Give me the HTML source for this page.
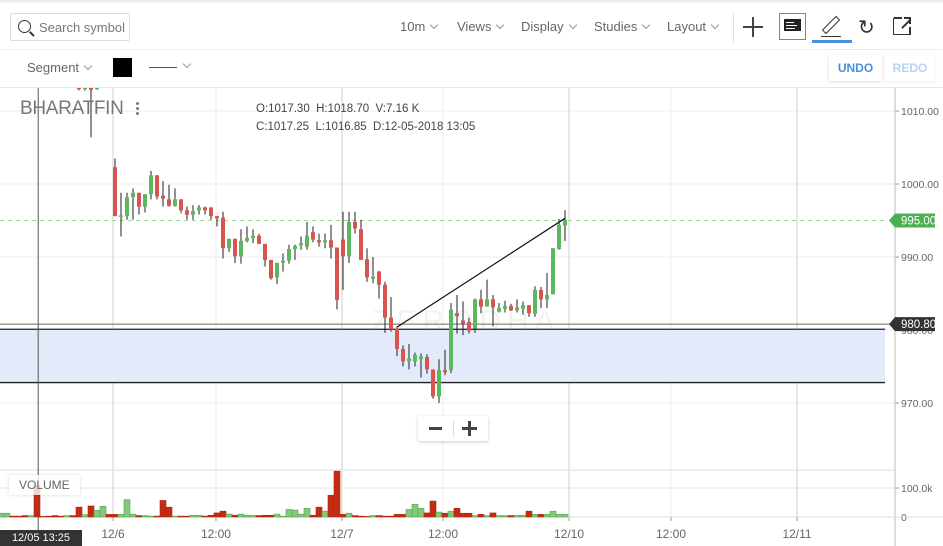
<!DOCTYPE html>
<html><head><meta charset="utf-8">
<style>
*{margin:0;padding:0;box-sizing:border-box}
body{width:943px;height:546px;overflow:hidden;background:#fff;font-family:"Liberation Sans",sans-serif;position:relative;color:#666}
.abs{position:absolute}
.menu{position:absolute;top:19px;font-size:13px;color:#666}
.chev{display:inline-block;width:6px;height:6px;border-right:1px solid #999;border-bottom:1px solid #999;transform:rotate(45deg);margin-left:6px;position:relative;top:-3px}
</style></head><body>
<div class="abs" style="left:0;top:0;width:943px;height:4px;background:linear-gradient(#e6e6e6,#fff)"></div>
<div class="abs" style="left:10px;top:13px;width:120px;height:28px;border:1px solid #ddd;border-radius:2px">
  <div class="abs" style="left:7px;top:6px;width:13px;height:13px;border:1.5px solid #333;border-radius:50%"></div>
  <div class="abs" style="left:18px;top:19px;width:6px;height:1.5px;background:#333;transform:rotate(45deg)"></div>
  <span class="abs" style="left:28px;top:6px;font-size:13px;color:#777">Search symbol</span>
</div>
<div class="menu" style="left:400px">10m<span class="chev"></span></div>
<div class="menu" style="left:457px">Views<span class="chev"></span></div>
<div class="menu" style="left:521px">Display<span class="chev"></span></div>
<div class="menu" style="left:594px">Studies<span class="chev"></span></div>
<div class="menu" style="left:667px">Layout<span class="chev"></span></div>
<div class="abs" style="left:733px;top:13px;width:1px;height:30px;background:#e0e0e0"></div>
<div class="abs" style="left:743px;top:17px;width:20px;height:20px">
  <div class="abs" style="left:9px;top:0;width:1.5px;height:20px;background:#444"></div>
  <div class="abs" style="left:0;top:9px;width:20px;height:1.5px;background:#444"></div>
</div>
<div class="abs" style="left:779px;top:13px;width:27px;height:27px;border:1px solid #4a8fd9">
  <div class="abs" style="left:4px;top:5px;width:17px;height:12px;background:#222"></div>
  <div class="abs" style="left:6px;top:8px;width:8px;height:1px;background:#fff"></div>
  <div class="abs" style="left:6px;top:11px;width:11px;height:1px;background:#fff"></div>
  <div class="abs" style="left:6px;top:14px;width:9px;height:1px;background:#fff"></div>
</div>
<div class="abs" style="left:812px;top:12px;width:40px;height:31px">
  <div class="abs" style="left:16px;top:3px;width:6px;height:20px;border:1.5px solid #333;transform:rotate(45deg);transform-origin:center"></div>
  <div class="abs" style="left:9px;top:24px;width:20px;height:1.3px;background:#333"></div>
  <div class="abs" style="left:0;top:28px;width:40px;height:3px;background:#4a8fd9"></div>
</div>
<div class="abs" style="left:858px;top:15px;font-size:20px;color:#333">&#8635;</div>
<div class="abs" style="left:893px;top:18px;width:17px;height:17px;border:1.5px solid #333;border-top:none;border-right:none">
  <div class="abs" style="left:0;top:-1px;width:8px;height:1.5px;background:#333"></div>
  <div class="abs" style="left:15px;top:9px;width:1.5px;height:8px;background:#333"></div>
  <div class="abs" style="left:6px;top:5px;width:12px;height:1.5px;background:#333;transform:rotate(-45deg)"></div>
  <div class="abs" style="left:10px;top:-1px;width:7px;height:1.5px;background:#333"></div>
  <div class="abs" style="left:15px;top:-1px;width:1.5px;height:7px;background:#333"></div>
</div>
<div class="abs" style="left:0;top:49px;width:943px;height:1px;background:#eee"></div>
<div class="abs" style="left:27px;top:60px;font-size:13px;color:#666">Segment<span class="chev"></span></div>
<div class="abs" style="left:113px;top:58px;width:19px;height:19px;background:#000"></div>
<div class="abs" style="left:149px;top:60px;width:45px;height:16px">
  <div class="abs" style="left:0;top:7px;width:28px;height:1px;background:#555"></div><span class="chev" style="position:absolute;left:29px;top:1px"></span>
</div>
<div class="abs" style="left:829px;top:55px;width:53px;height:26px;box-shadow:0 1px 3px rgba(0,0,0,.15);font-size:12px;font-weight:bold;color:#4a8fd9;text-align:center;line-height:26px">UNDO</div>
<div class="abs" style="left:885px;top:55px;width:50px;height:26px;box-shadow:0 1px 3px rgba(0,0,0,.08);font-size:12px;font-weight:bold;color:#b8d2f0;text-align:center;line-height:26px">REDO</div>
<div class="abs" style="left:0;top:87px;width:943px;height:1px;background:#e6e6e6"></div>

<svg id="chart" class="abs" style="left:0;top:0" width="943" height="546"></svg>

<div class="abs" style="left:20px;top:98px;font-size:19px;color:#777;letter-spacing:-0.3px">BHARATFIN</div>
<div class="abs" style="left:136px;top:102px;width:4px;font-size:0">
  <div style="width:3px;height:3px;background:#777;border-radius:50%;margin-bottom:2px"></div><div style="width:3px;height:3px;background:#777;border-radius:50%;margin-bottom:2px"></div><div style="width:3px;height:3px;background:#777;border-radius:50%"></div>
</div>
<div class="abs" style="left:256px;top:100px;font-size:11.5px;color:#444;line-height:18px">O:1017.30&nbsp; H:1018.70&nbsp; V:7.16 K<br>C:1017.25&nbsp; L:1016.85&nbsp; D:12-05-2018 13:05</div>
<div class="abs" style="left:418px;top:416px;width:70px;height:25px;background:#fff;box-shadow:0 1px 3px rgba(0,0,0,.2);border-radius:2px">
  <div class="abs" style="left:11px;top:11px;width:13px;height:3px;background:#444"></div>
  <div class="abs" style="left:35px;top:4px;width:1px;height:17px;background:#ddd"></div>
  <div class="abs" style="left:44px;top:5px;width:15px;height:15px">
    <div class="abs" style="left:6px;top:0;width:3px;height:15px;background:#444"></div><div class="abs" style="left:0;top:6px;width:15px;height:3px;background:#444"></div>
  </div>
</div>
<div class="abs" style="left:9px;top:475px;padding:3px 10px;font-size:12px;color:#666;background:rgba(255,255,255,.8);box-shadow:0 0 3px rgba(0,0,0,.15)">VOLUME</div>
<div class="abs" style="left:0;top:530px;width:82px;height:16px;background:#333;color:#fff;font-size:11px;text-align:center;line-height:16px">12/05 13:25</div>

<script>
const opens=[1016,1017,1018,1017,1016.5,1016,1017.3,1017.2,1016.8,1016.2,1015.8,1015.3,1015.8,1013.5,1013,1013.6,1013,1014,1016,
1002.3,995.6,995.6,998.2,998.8,996.9,998.6,1001.2,998.4,997.9,997.0,997.9,996.4,995.8,996.4,996.8,996.8,995.6,995.4,991.2,992.5,990.1,992.2,992.6,992.9,991.8,989.6,987.2,989.2,989.5,991.1,991.6,991.4,993.4,992.3,992.0,992.3,991.3,992.4,990.1,994.8,993.8,989.7,987.0,
988.0,986.2,981.7,980.2,977.4,975.7,975.7,976.0,976.3,974.6,970.9,974.5,974.5,982.3,981.3,981.1,980.2,984.2,983.2,984.2,982.5,982.9,983.3,982.7,982.9,983.4,982.2,985.5,984.2,984.9,991.1,994.3];
const highs=[1018,1018.5,1019,1017.5,1017,1017.5,1018.7,1017.5,1017,1016.5,1016,1016.2,1016,1015,1015,1015,1015,1016,1017,
1003.5,998.8,998.8,999.4,998.8,998.6,1001.8,1001.2,1000.4,999.9,999.4,997.9,996.9,997.1,997.1,996.9,996.8,995.6,996.2,992.5,992.5,993.8,994.2,993.8,993.2,991.8,989.6,989.2,990.5,991.7,991.7,992.8,994.8,994.2,993.2,993.2,994.4,991.3,996.2,996.2,996.2,995.1,991.2,990.0,
988.1,986.6,984.5,980.5,977.9,978.1,976.9,976.8,976.7,974.6,976.0,977.3,983.7,984.8,983.9,981.7,984.3,985.5,986.9,984.8,983.7,984.0,983.6,984.2,983.9,983.4,986.0,985.9,987.8,991.2,995.2,996.4];
const lows=[1015.5,1016.5,1016.5,1016,1015.5,1015.5,1016.85,1016.5,1015.8,1015.2,1015,1014.9,1014.2,1012.8,1012.8,1006.4,1012.9,1013.6,1013.5,
995.6,992.8,995.1,995.1,995.8,996.1,997.9,997.9,996.9,996.9,996.9,996.0,995.1,995.1,995.8,995.8,995.1,994.2,989.8,990.7,989.2,989.1,992.0,991.9,991.8,988.7,986.9,986.3,988.0,989.1,989.6,991.0,991.0,992.0,991.4,991.2,989.8,982.8,985.5,989.2,993.2,989.6,986.6,986.4,
984.3,979.6,979.8,976.4,975.0,974.6,975.0,973.5,974.0,970.6,970.0,973.8,974.1,979.5,979.3,979.5,979.6,982.3,983.2,980.5,982.4,982.4,982.6,982.4,982.1,981.8,981.8,983.0,983.0,984.9,991.0,992.2];
const closes=[1017,1018,1017,1016.5,1016,1017,1017.25,1016.8,1016.2,1015.8,1015.3,1015.8,1014.5,1013.0,1013.5,1012.9,1013.3,1015,1014,
995.6,995.7,998.2,998.8,996.9,998.6,1001.2,998.3,998.0,997.0,997.9,996.4,995.8,996.3,996.8,996.4,995.6,995.3,991.2,992.5,990.1,992.2,992.6,992.9,991.8,989.6,987.1,989.2,989.5,991.1,991.5,991.9,992.9,992.4,992.0,992.3,991.3,984.1,990.1,994.8,993.9,989.6,987.2,987.3,
986.2,981.7,980.1,977.4,975.7,976.1,976.6,976.4,974.6,970.9,974.5,974.2,982.8,981.9,980.9,979.9,984.2,983.2,984.2,983.1,983.0,983.3,982.7,983.1,983.4,982.3,985.5,984.2,984.8,991.2,994.4,995.1];
const volumes=[13,13,3,3,5,5,110,2,3,5,3,5,5,34,8,38,23,37,9,9,9,60,10,5,5,3,3,57,34,3,3,3,6,6,3,6,14,20,10,6,10,6,5,5,6,6,10,3,26,24,10,30,6,34,20,75,
158,9,13,5,3,2,5,5,3,3,9,9,26,44,30,14,55,17,13,20,30,13,13,5,9,5,14,5,5,5,6,6,20,9,9,9,20,9,9];
const priceTicks=[1010,1000,990,980,970];
const priceTickLabels=["1010.00","1000.00","990.00","980.00","970.00"];
const volTicks=[100,0];
const volTickLabels=["100.0k","0"];
const timeTickIdx=[18.67,35.83,56.83,73.67,94.67,111.67,132.67];
const timeTickLabels=["12/6","12:00","12/7","12:00","12/10","12:00","12/11"];
const dayTick=[true,false,true,false,true,false,true];
const lastPrice=995.0;
const markerPrice=980.8;
const zoneTop=980.1, zoneBottom=972.8;
const trendStart=[66,980.4], trendEnd=[94,995.3];
const crossIdx=6.2;

const svg=document.getElementById('chart');
const NS='http://www.w3.org/2000/svg';
const X=i=>1+6*i;
const Y=p=>184+(1000-p)*7.3;
const VY=v=>517-v*0.29;
const AX=895;
function mk(tag,attrs,parent){const e=document.createElementNS(NS,tag);for(const k in attrs)e.setAttribute(k,attrs[k]);(parent||svg).appendChild(e);return e;}
const defs=mk('defs',{});
const cp=mk('clipPath',{id:'pc'},defs);mk('rect',{x:0,y:88,width:AX,height:382},cp);

priceTicks.forEach((p,i)=>{
  const g=mk('line',{x1:0,x2:AX,y1:Y(p),y2:Y(p),stroke:'#ececec'});
  
  
  mk('line',{x1:AX,x2:AX+4,y1:Y(p),y2:Y(p),stroke:'#999'});
  const t=mk('text',{x:901,y:Y(p)+4,'font-size':10.5,fill:'#666','font-family':'Liberation Sans'});
  t.textContent=priceTickLabels[i];
  
  
});
volTicks.forEach((v,i)=>{
  const g=mk('line',{x1:0,x2:AX,y1:VY(v),y2:VY(v),stroke:'#e6e6e6'});
  
  
  mk('line',{x1:AX,x2:AX+4,y1:VY(v),y2:VY(v),stroke:'#999'});
  const t=mk('text',{x:901,y:VY(v)+4,'font-size':10.5,fill:'#666','font-family':'Liberation Sans'});
  t.textContent=volTickLabels[i];
  
  
});
timeTickIdx.forEach((ti,i)=>{
  const x=X(ti);
  const g=mk('line',{x1:x,x2:x,y1:88,y2:517,stroke:dayTick[i]?'#d0d0d0':'#ececec'});
  
  
  mk('line',{x1:x,x2:x,y1:517,y2:521,stroke:'#999'});
  const t=mk('text',{x:x,y:538,'font-size':12,fill:'#666','text-anchor':'middle','font-family':'Liberation Sans'});
  t.textContent=timeTickLabels[i];
  
  
});
const ax=mk('line',{x1:AX,x2:AX,y1:88,y2:546,stroke:'#bbb'});


mk('line',{x1:0,x2:AX,y1:470,y2:470,stroke:'#ddd'});
mk('line',{x1:0,x2:943,y1:517,y2:517,stroke:'#ddd'});
const wm=mk('text',{x:372,y:331,'font-size':30,fill:'#000','fill-opacity':0.05,'font-family':'Liberation Sans','letter-spacing':6});
wm.textContent='ZERODHA';


const zr=mk('rect',{x:0,y:Y(zoneTop),width:AX-10,height:Y(zoneBottom)-Y(zoneTop),fill:'#e3ebfb'});


mk('line',{x1:0,x2:AX-10,y1:Y(zoneTop),y2:Y(zoneTop),stroke:'#222','stroke-width':1.3});
mk('line',{x1:0,x2:AX-10,y1:Y(zoneBottom),y2:Y(zoneBottom),stroke:'#222','stroke-width':1.3});
mk('line',{x1:X(crossIdx),x2:X(crossIdx),y1:88,y2:530,stroke:'#555'});
const hl=mk('line',{x1:0,x2:AX,y1:Y(markerPrice),y2:Y(markerPrice),stroke:'#666'});


const dl=mk('line',{x1:0,x2:AX-10,y1:Y(lastPrice),y2:Y(lastPrice),stroke:'#9ed49a','stroke-dasharray':'4,4'});


const cg=mk('g',{'clip-path':'url(#pc)'});
for(let i=0;i<opens.length;i++){
  const up=closes[i]>=opens[i];
  const x=X(i);
  const w=mk('line',{x1:x,x2:x,y1:Y(highs[i]),y2:Y(lows[i]),stroke:'#222','stroke-width':1},cg);
  
  
  const top=Y(Math.max(opens[i],closes[i])),bot=Y(Math.min(opens[i],closes[i]));
  const b=mk('rect',{x:x-2,y:top,width:4,height:Math.max(1.5,bot-top),fill:up?'#5cb85c':'#d9534f'},cg);
  
  
}
for(let i=0;i<volumes.length;i++){
  const up=closes[i]>=opens[i];
  const r=mk('rect',{x:X(i)-3,y:VY(volumes[i]),width:6,height:volumes[i]*0.29,fill:up?'#82c97a':'#c42b12',stroke:up?'#5aa552':'#b02510','stroke-width':0.6});
  
  
}
const tl=mk('line',{x1:X(trendStart[0]),y1:Y(trendStart[1]),x2:X(trendEnd[0]),y2:Y(trendEnd[1]),stroke:'#111','stroke-width':1.2});


function tag(p,fill,txt,name){
  const y=Y(p);
  const g=mk('g',{});
  
  
  mk('path',{d:`M${AX-6},${y} L${AX},${y-7} L935,${y-7} L935,${y+7} L${AX},${y+7} Z`,fill:fill},g);
  const t=mk('text',{x:901,y:y+4,'font-size':11.5,fill:'#fff','font-family':'Liberation Sans'},g);
  t.textContent=txt;
}
tag(lastPrice,'#4caf50','995.00','last-price-label');
tag(markerPrice,'#333','980.80','crosshair-price-label');
</script>
</body></html>
